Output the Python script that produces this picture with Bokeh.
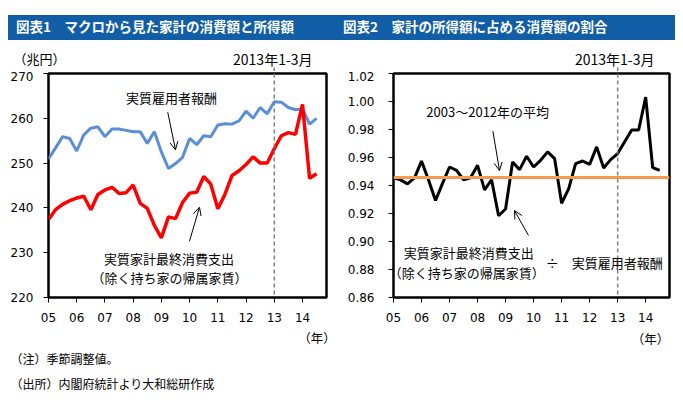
from bokeh.plotting import figure
from bokeh.models import Range1d, FixedTicker, Span, Label, Arrow, OpenHead, Div
from bokeh.layouts import column, row
from bokeh.embed import file_html
from bokeh.resources import INLINE

# ---------------- data ----------------
quarters = [f"{y}Q{q}" for y in range(2005, 2015) for q in range(1, 5)][:39]  # 2005Q1 .. 2014Q3
year_ticks = [0, 4, 8, 12, 16, 20, 24, 28, 32, 36]
year_labels = ["05", "06", "07", "08", "09", "10", "11", "12", "13", "14"]

# 実質雇用者報酬 (兆円)
compensation = [250.9, 253.4, 255.9, 255.5, 252.7, 256.3, 257.8, 258.1, 255.9, 257.6,
                257.6, 257.3, 257.0, 257.0, 254.4, 257.0, 252.5, 248.8, 249.9, 251.3,
                255.5, 254.1, 256.1, 255.9, 258.5, 258.8, 258.7, 259.4, 261.6, 260.0,
                262.4, 261.0, 263.7, 263.6, 262.4, 261.9, 262.1, 258.7, 260.0]
# 実質家計最終消費支出（除く持ち家の帰属家賃）(兆円)
consumption = [237.4, 239.6, 240.8, 241.6, 242.2, 242.6, 239.6, 243.0, 244.0, 244.6,
               243.2, 243.4, 245.1, 241.0, 239.9, 236.1, 233.3, 238.0, 237.6, 241.2,
               243.3, 243.5, 247.0, 245.3, 239.8, 243.0, 247.2, 248.3, 249.7, 251.4,
               250.0, 250.0, 253.2, 256.1, 256.8, 256.4, 263.1, 246.6, 247.6]
# 消費 ÷ 報酬
ratio = [0.9455, 0.9440, 0.9412, 0.9455, 0.9574, 0.9440, 0.9293, 0.9415, 0.9532, 0.9508,
         0.9441, 0.9455, 0.9544, 0.9369, 0.9441, 0.9184, 0.9232, 0.9568, 0.9513, 0.9609,
         0.9532, 0.9580, 0.9640, 0.9592, 0.9273, 0.9376, 0.9556, 0.9575, 0.9551, 0.9676,
         0.9525, 0.9585, 0.9628, 0.9712, 0.9796, 0.9796, 1.0031, 0.9527, 0.9508]
ratio_avg_2003_2012 = 0.9457
marker_quarter = 32  # 2013年1-3月

left_ticks = [220, 230, 240, 250, 260, 270]
right_ticks = [0.86, 0.88, 0.90, 0.92, 0.94, 0.96, 0.98, 1.00, 1.02]

JP = "Noto Sans CJK JP"
NUM = "DejaVu Sans"
X_END = 39.4

x = list(range(len(quarters)))

# layout geometry (px)
W1, W2 = 340, 340
L1, R1 = 48, 14
L2, R2 = 53, 11
HEAD_H, MAIN_TOP, FRAME_H, MAIN_BOTTOM, FOOT_H = 31, 2, 224, 32, 70


def base_fig(width, border_left, border_right, y_range, yticks, ylabels):
    p = figure(width=width, height=MAIN_TOP + FRAME_H + MAIN_BOTTOM,
               x_range=Range1d(0, X_END), y_range=y_range,
               output_backend="svg", toolbar_location=None, title=None,
               min_border_left=border_left, min_border_right=border_right,
               min_border_top=MAIN_TOP, min_border_bottom=MAIN_BOTTOM)
    p.background_fill_color = "white"
    p.border_fill_color = "white"
    p.outline_line_color = "black"
    p.outline_line_width = 2.5
    p.xgrid.visible = False
    p.ygrid.visible = False
    for ax in (p.xaxis[0], p.yaxis[0]):
        ax.axis_line_color = None
        ax.major_tick_line_color = "black"
        ax.major_tick_in = 0
        ax.major_tick_out = 5
        ax.minor_tick_line_color = None
        ax.major_label_text_font = NUM
        ax.major_label_text_font_size = "12px"
        ax.major_label_text_color = "black"
    p.xaxis.ticker = FixedTicker(ticks=year_ticks)
    p.xaxis.major_label_overrides = {t: l for t, l in zip(year_ticks, year_labels)}
    p.xaxis.major_label_standoff = 10
    p.yaxis.ticker = FixedTicker(ticks=yticks)
    p.yaxis.major_label_overrides = {t: l for t, l in zip(yticks, ylabels)}
    p.add_layout(Span(location=marker_quarter, dimension="height", line_color="#808080",
                      line_dash="4 3", line_width=1.5))
    return p


def blank(width, height):
    p = figure(width=width, height=height, x_range=Range1d(0, width), y_range=Range1d(0, height),
               output_backend="svg", toolbar_location=None, title=None,
               x_axis_location=None, y_axis_location=None, min_border=0)
    p.outline_line_color = None
    p.grid.visible = False
    p.background_fill_color = "white"
    p.border_fill_color = "white"
    return p


def lab(p, x, y, text, size="13px", align="center"):
    p.add_layout(Label(x=x, y=y, text=text, text_font=JP, text_font_size=size,
                       text_align=align, text_baseline="middle", text_color="black"))


def arrow(p, x0, y0, x1, y1):
    p.add_layout(Arrow(x_start=x0, y_start=y0, x_end=x1, y_end=y1, line_width=1,
                       line_color="black",
                       end=OpenHead(size=8, line_width=1, line_color="black")))


def marker_px(border_left, width, border_right):
    frame_w = width - border_left - border_right
    return border_left + marker_quarter * frame_w / X_END


# ---------------- 図表1 ----------------
p1 = base_fig(W1, L1, R1, Range1d(220, 270), left_ticks, [str(t) for t in left_ticks])
p1.yaxis.major_label_standoff = 10
p1.line(x, compensation, line_color="#5A8FD8", line_width=3)
p1.line(x, consumption, line_color="#FF0000", line_width=3.5)
lab(p1, 17.43, 264.64, "実質雇用者報酬")
arrow(p1, 16.9, 261.36, 18.0, 252.97)
lab(p1, 17.08, 228.71, "実質家計最終消費支出")
lab(p1, 17.15, 224.46, "（除く持ち家の帰属家賃）")
arrow(p1, 19.98, 232.57, 21.4, 240.16)

h1 = blank(W1, HEAD_H)
m1 = marker_px(L1, W1, R1)
h1.segment(x0=[m1], y0=[0], x1=[m1], y1=[5], line_color="#808080", line_dash="4 3", line_width=1.5)
lab(h1, 13, 13, "（兆円）", size="13px", align="left")
lab(h1, m1 - 1.5, 13, "2013年1-3月", size="14px")

f1 = blank(W1, FOOT_H)
lab(f1, 316.5, 62, "（年）", size="12.5px")
lab(f1, 10, 41, "（注）季節調整値。", size="12px", align="left")
lab(f1, 10, 16, "（出所）内閣府統計より大和総研作成", size="12px", align="left")

# ---------------- 図表2 ----------------
p2 = base_fig(W2, L2, R2, Range1d(0.86, 1.02), right_ticks, [f"{t:.2f}" for t in right_ticks])
p2.yaxis.major_label_standoff = 14
p2.add_layout(Span(location=ratio_avg_2003_2012, dimension="width", line_color="#F59A4E",
                   line_width=3))
p2.line(x, ratio, line_color="black", line_width=3)
lab(p2, 13.45, 0.9929, "2003～2012年の平均")
arrow(p2, 14.19, 0.9788, 15.13, 0.9507)
lab(p2, 10.74, 0.8921, "実質家計最終消費支出")
lab(p2, 10.45, 0.8779, "（除く持ち家の帰属家賃）")
lab(p2, 30.08, 0.885, "÷　実質雇用者報酬")
arrow(p2, 19.27, 0.9043, 17.27, 0.9221)

h2 = blank(W2, HEAD_H)
m2 = marker_px(L2, W2, R2)
h2.segment(x0=[m2], y0=[0], x1=[m2], y1=[5], line_color="#808080", line_dash="4 3", line_width=1.5)
lab(h2, m2 - 3, 13, "2013年1-3月", size="14px")

f2 = blank(W2, FOOT_H)
lab(f2, 310, 61, "（年）", size="12.5px")

# ---------------- title bar ----------------
bar_html = (
    '<div style="position:relative;width:680px;height:40px;">'
    '<div style="position:absolute;left:8px;top:15px;width:667px;height:25px;background:#115EA7;'
    'color:white;font-family:\'Noto Sans CJK JP\';font-weight:bold;font-size:13.5px;">'
    '<span style="position:absolute;left:8px;top:2px;">図表1　マクロから見た家計の消費額と所得額</span>'
    '<span style="position:absolute;left:335px;top:2px;">図表2　家計の所得額に占める消費額の割合</span>'
    '</div></div>'
)
bar = Div(text=bar_html, width=680, height=40, margin=0)

layout = column(bar, row(h1, h2, spacing=0), row(p1, p2, spacing=0), row(f1, f2, spacing=0),
                spacing=0)
open("out.html", "w").write(file_html(layout, INLINE))
